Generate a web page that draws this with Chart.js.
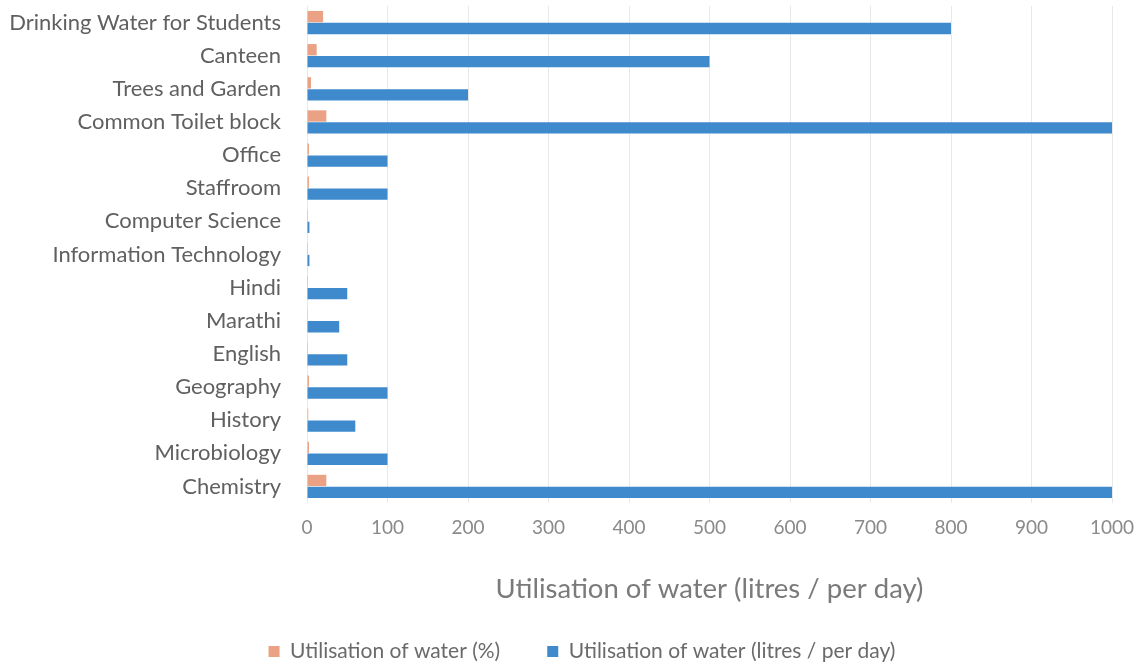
<!DOCTYPE html>
<html>
<head>
<meta charset="utf-8">
<script src="https://cdn.jsdelivr.net/npm/chart.js@4.4.1/dist/chart.umd.min.js"></script>
<style>
html,body{margin:0;padding:0;background:#fff;}
#wrap{width:1138px;height:667px;position:relative;}
</style>
</head>
<body>
<div id="wrap"><canvas id="c" width="1138" height="667"></canvas></div>
<script>
const categories = ["Drinking Water for Students","Canteen","Trees and Garden","Common Toilet block","Office","Staffroom","Computer Science","Information Technology","Hindi","Marathi","English","Geography","History","Microbiology","Chemistry"];
const percentValues = [20, 12, 5, 24, 2.4, 2.4, 0.1, 0.1, 1.2, 1, 1.2, 2.4, 1.5, 2.4, 24];
const litresValues = [800, 500, 200, 1000, 100, 100, 3, 3, 50, 40, 50, 100, 60, 100, 1000];
const xTicks = [0,100,200,300,400,500,600,700,800,900,1000];
const seriesNames = ["Utilisation of water (%)","Utilisation of water (litres / per day)"];
const axisTitle = "Utilisation of water (litres / per day)";

const FONT = "Lato, 'Open Sans', sans-serif";
const legendShift = {
  id: 'legendShift',
  afterLayout(chart) { if (chart.legend) { chart.legend.left += 52; } }
};
new Chart(document.getElementById('c'), {
  type: 'bar',
  data: {
    labels: categories,
    datasets: [
      {label: seriesNames[0], data: percentValues, backgroundColor: '#eba183', categoryPercentage: 0.72, barPercentage: 0.95},
      {label: seriesNames[1], data: litresValues, backgroundColor: '#3e8acd', categoryPercentage: 0.72, barPercentage: 0.95}
    ]
  },
  plugins: [legendShift],
  options: {
    indexAxis: 'y',
    responsive: false,
    animation: false,
    layout: {padding: {left: 0, right: 26, top: 6, bottom: -5}},
    plugins: {
      legend: {
        position: 'bottom',
        labels: {
          font: {family: FONT, size: 21}, color: '#6a6a6a', boxWidth: 11, boxHeight: 11, padding: 4,
          generateLabels: (chart) => {
            const items = Chart.defaults.plugins.legend.labels.generateLabels(chart);
            items.forEach((it, i) => { if (i === 0) it.text = it.text + '\u00a0'.repeat(8); });
            return items;
          }
        },
      },
      tooltip: {enabled: false}
    },
    scales: {
      x: {
        min: 0, max: 1000,
        afterBuildTicks: (s) => { s.ticks = xTicks.map(v => ({value: v})); },
        afterFit: (s) => { s.height = 134; s.paddingLeft = 0; s.paddingRight = 0; },
        grid: {color: '#e8e8e8', drawTicks: false},
        border: {display: false},
        ticks: {font: {family: FONT, size: 19}, color: '#8a8a8a', padding: 13, callback: (v) => String(v)},
        title: {display: true, text: axisTitle, font: {family: FONT, size: 27.5}, color: '#7a7a7a', padding: {top: 20, bottom: 31}}
      },
      y: {
        afterFit: (s) => { s.width = 307; s.paddingTop = 0; s.paddingBottom = 0; },
        grid: {display: false, drawTicks: false},
        border: {display: false},
        ticks: {font: {family: FONT, size: 22}, color: '#606060', padding: 26}
      }
    }
  }
});
</script>
</body>
</html>
